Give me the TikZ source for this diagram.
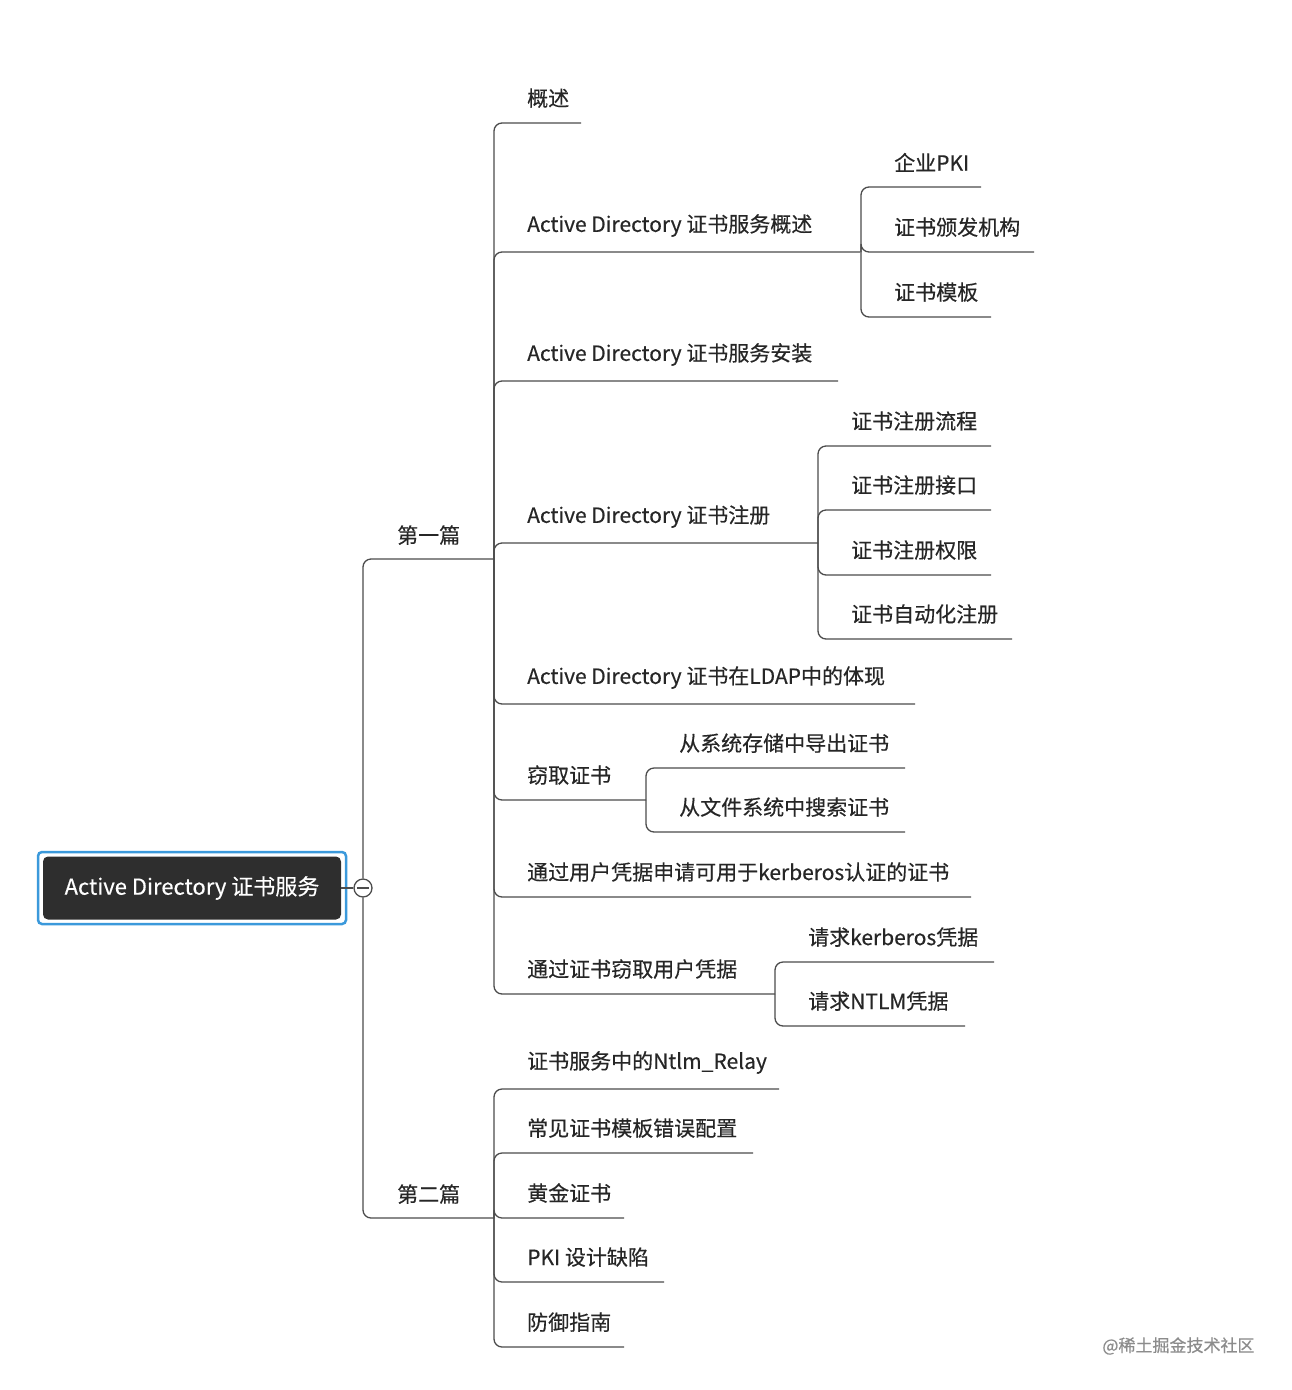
\documentclass[tikz,border=0pt]{standalone}
\usepackage{fontspec}
\setmainfont{Noto Sans CJK SC}[FakeBold=0.4]
\begin{document}
\begin{tikzpicture}[x=1pt,y=-1pt,
  link/.style={draw=black!70,line width=1.3pt,rounded corners=8pt},
  lbl/.style={anchor=south west,inner sep=0pt,font=\fontsize{21}{24}\selectfont,text=black!85}]
\useasboundingbox (0,0) rectangle (1292,1390);
% root
\draw[draw=cyan!70!blue!80,line width=2.5pt,rounded corners=4pt] (38,852) rectangle (346,924);
\node[fill=black!82,rounded corners=5pt,minimum width=298pt,minimum height=63pt,text=white,font=\fontsize{22}{24}\selectfont] (root) at (192,888) {Active Directory 证书服务};
\node[circle,draw=black!70,line width=1.3pt,minimum size=18pt,inner sep=0pt] (col) at (363,888) {};
\draw[black!70,line width=1.3pt] (357,888) -- (369,888);
\draw[link] (root.east) -- (col.west);
% level 1
\draw[link] (col.north) |- (494,559);
\draw[link] (col.south) |- (494,1218);
\node[lbl] (p1) at (397,545) {第一篇};
\node[lbl] (p2) at (397,1204) {第二篇};
% part 1
\foreach \y/\e/\t in {123/581/概述,252/860/Active Directory 证书服务概述,381/838/Active Directory 证书服务安装,543/818/Active Directory 证书注册,704/915/Active Directory 证书在LDAP中的体现,800/646/窃取证书,897/971/通过用户凭据申请可用于kerberos认证的证书,994/775/通过证书窃取用户凭据}{
  \draw[link] (494,559) |- (\e,\y);
  \node[lbl] at (527,\y-15) {\t};
}
% part 2
\foreach \y/\e/\t in {1089/779/证书服务中的Ntlm\_Relay,1153/753/常见证书模板错误配置,1218/624/黄金证书,1282/664/PKI 设计缺陷,1347/624/防御指南}{
  \draw[link] (494,1218) |- (\e,\y);
  \node[lbl] at (527,\y-15) {\t};
}
% sub of 服务概述
\foreach \y/\e/\t in {187/981/企业PKI,252/1034/证书颁发机构,317/991/证书模板}{
  \draw[link] (861,252) |- (\e,\y);
  \node[lbl] at (894,\y-15) {\t};
}
% sub of 注册
\foreach \y/\e/\t in {446/991/证书注册流程,510/991/证书注册接口,575/991/证书注册权限,639/1012/证书自动化注册}{
  \draw[link] (818,543) |- (\e,\y);
  \node[lbl] at (851,\y-15) {\t};
}
% sub of 窃取证书
\foreach \y/\e/\t in {768/905/从系统存储中导出证书,832/905/从文件系统中搜索证书}{
  \draw[link] (646,800) |- (\e,\y);
  \node[lbl] at (679,\y-15) {\t};
}
% sub of 通过证书窃取
\foreach \y/\e/\t in {962/994/请求kerberos凭据,1026/965/请求NTLM凭据}{
  \draw[link] (775,994) |- (\e,\y);
  \node[lbl] at (808,\y-15) {\t};
}
\node[anchor=east,text=black!45,font=\fontsize{17}{19}\selectfont] (wm) at (1258,1346) {@稀土掘金技术社区};
\end{tikzpicture}
\end{document}
